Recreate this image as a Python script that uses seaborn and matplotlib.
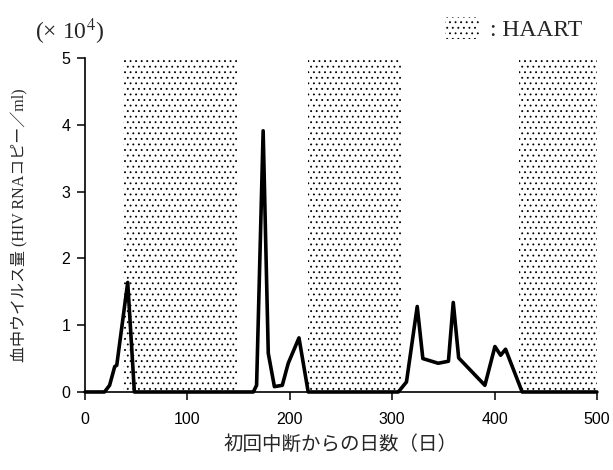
import matplotlib
matplotlib.use("Agg")
import matplotlib.pyplot as plt
from matplotlib.patches import Patch
import seaborn as sns
import pandas as pd

# viral load (x 10^4 copies/ml)
days = [0, 19, 24, 29, 31, 41.7, 48.2, 164.4, 167.6, 174, 179, 185, 192.7, 198.5, 209,
        218, 306, 314, 324.5, 330, 345, 355, 359.7, 365, 390.6, 400.4, 406, 410.8, 427, 500]
load = [0, 0, 0.1, 0.38, 0.4, 1.64, 0, 0, 0.1, 3.91, 0.58, 0.08, 0.1, 0.43, 0.81,
        0, 0, 0.15, 1.28, 0.5, 0.43, 0.46, 1.34, 0.51, 0.1, 0.68, 0.55, 0.64, 0, 0]

# HAART periods (start day, end day)
haart_start = [37.4, 217.5, 424]
haart_end = [148, 309, 500]

x_ticks = [0, 100, 200, 300, 400, 500]
y_ticks = [0, 1, 2, 3, 4, 5]

sns.set_theme(style="ticks")
plt.rcParams["font.family"] = ["Liberation Sans", "Noto Sans CJK JP"]
plt.rcParams["mathtext.fontset"] = "stix"
plt.rcParams["hatch.linewidth"] = 0.6
plt.rcParams["hatch.color"] = "black"

label_font = ["Liberation Serif", "Noto Sans CJK JP"]

df = pd.DataFrame({"day": days, "load": load})

fig = plt.figure(figsize=(6.13, 4.70), dpi=100)
ax = fig.add_axes([0.1387, 0.166, 0.835, 0.7106])

for s, e in zip(haart_start, haart_end):
    ax.axvspan(s, e, facecolor="white", edgecolor="black", hatch="...", lw=0, zorder=1)

sns.lineplot(data=df, x="day", y="load", sort=False, estimator=None, color="black",
             lw=2.6, ax=ax, zorder=3, clip_on=False)

ax.set_xlim(0, 500)
ax.set_ylim(0, 5)
ax.set_xticks(x_ticks)
ax.set_yticks(y_ticks)
ax.tick_params(axis="both", direction="out", length=5.5, width=1.1, labelsize=11.5,
               colors="black")
ax.tick_params(axis="x", pad=9)
ax.tick_params(axis="y", pad=5)
sns.despine(ax=ax)
for sp in ["left", "bottom"]:
    ax.spines[sp].set_linewidth(1.2)
    ax.spines[sp].set_color("black")

ax.set_xlabel("初回中断からの日数（日）", family=label_font, fontsize=14, labelpad=6)
ax.set_ylabel("血中ウイルス量 (HIV RNAコピー／ml)", family=label_font, fontsize=11.5,
              labelpad=24)

fig.text(0.057, 0.932, r"(× 10$^{4}$)", family="Liberation Serif", fontsize=17,
         va="center", ha="left")

handle = Patch(facecolor="white", edgecolor="black", hatch="...", lw=0)
fig.legend(handles=[handle], labels=[": HAART"], loc="center",
           bbox_to_anchor=(0.838, 0.938), frameon=False, handlelength=1.44,
           handleheight=1.06, handletextpad=0.47, borderpad=0, borderaxespad=0,
           prop={"family": "Liberation Serif", "size": 17})

fig.savefig("out.png", dpi=100)
